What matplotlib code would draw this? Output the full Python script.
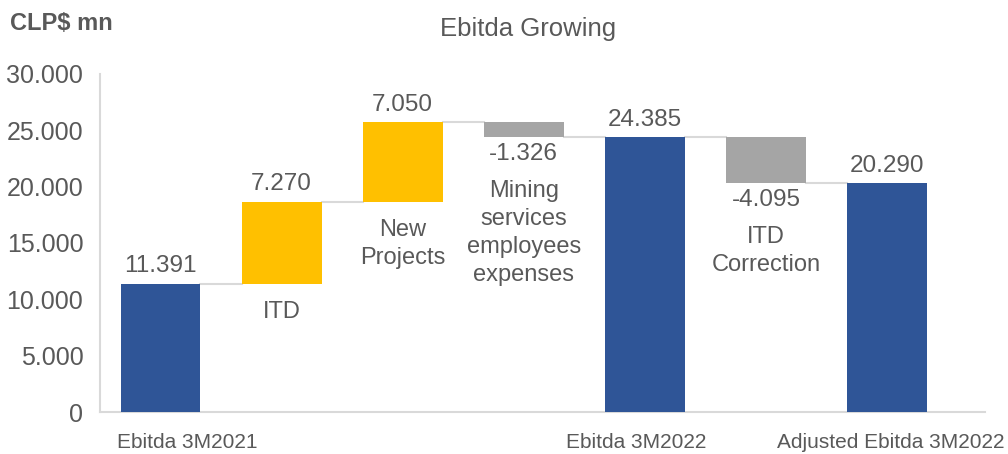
import numpy as np
import matplotlib.pyplot as plt

plt.rcParams['font.family'] = ['Liberation Sans', 'DejaVu Sans']

# waterfall steps (CLP$ mn)
steps = ['Ebitda 3M2021', 'ITD', 'New Projects', 'Mining services',
         'Ebitda 3M2022', 'ITD Correction', 'Adjusted Ebitda 3M2022']
values = [11391, 7270, 7050, -1326, 24385, -4095, 20290]
is_total = [True, False, False, False, True, False, True]
value_labels = ['11.391', '7.270', '7.050', '-1.326', '24.385', '-4.095', '20.290']
notes = ['', 'ITD', 'New\nProjects', 'Mining\nservices\nemployees\nexpenses',
         '', 'ITD\nCorrection', '']
axis_labels = ['Ebitda 3M2021', 'Ebitda 3M2022', 'Adjusted Ebitda 3M2022']
axis_label_x = [0.22, 3.93, 6.03]
yticks = [0, 5000, 10000, 15000, 20000, 25000, 30000]

BLUE = '#2F5597'
YELLOW = '#FFC000'
GREY = '#A5A5A5'
TXT = '#595959'
LINE = '#D9D9D9'

fig = plt.figure(figsize=(10.08, 4.54), dpi=100)
ax = fig.add_axes([0.0992, 0.0925, 0.878, 0.745])

x = np.arange(len(values))
width = 0.66
bottoms, heights, colors = [], [], []
running = 0
for v, tot in zip(values, is_total):
    if tot:
        bottoms.append(0)
        heights.append(v)
        colors.append(BLUE)
        running = v
    else:
        if v >= 0:
            bottoms.append(running)
            colors.append(YELLOW)
        else:
            bottoms.append(running + v)
            colors.append(GREY)
        heights.append(abs(v))
        running += v

ax.bar(x, heights, width, bottom=bottoms, color=colors, zorder=3)

# connectors between bars
level = 0
for i, (v, tot) in enumerate(zip(values, is_total)):
    level = v if tot else level + v
    if i < len(values) - 1:
        ax.plot([x[i] + width / 2, x[i + 1] - width / 2], [level, level],
                color=LINE, lw=1.5, zorder=2)

# value labels and notes
for i, v in enumerate(values):
    top = bottoms[i] + heights[i]
    bot = bottoms[i]
    if v >= 0:
        ax.annotate(value_labels[i], (x[i], top), xytext=(0, 4.5),
                    textcoords='offset points', ha='center', va='bottom',
                    fontsize=17.5, color=TXT)
    else:
        ax.annotate(value_labels[i], (x[i], bot), xytext=(0, -4),
                    textcoords='offset points', ha='center', va='top',
                    fontsize=17.5, color=TXT)
    if notes[i]:
        off = -31 if v < 0 else -12.5
        ax.annotate(notes[i], (x[i], bot), xytext=(0, off),
                    textcoords='offset points', ha='center', va='top',
                    fontsize=17, color=TXT, linespacing=1.36)

for lx, lab in zip(axis_label_x, axis_labels):
    ax.text(lx, -0.09, lab, transform=ax.get_xaxis_transform(),
            ha='center', va='center', fontsize=15, color=TXT)

ax.set_xlim(-0.5, 6.81)
ax.set_ylim(0, 30000)
ax.set_xticks([])
ax.set_yticks(yticks)
ax.set_yticklabels([f'{t:,}'.replace(',', '.') for t in yticks])
ax.tick_params(axis='y', length=0, pad=12, labelsize=18, labelcolor=TXT)
for s in ['top', 'right']:
    ax.spines[s].set_visible(False)
for s in ['left', 'bottom']:
    ax.spines[s].set_color(LINE)
    ax.spines[s].set_linewidth(1.5)

fig.text(0.0099, 0.949, 'CLP$ mn', fontsize=17, fontweight='bold',
         color=TXT, va='center', ha='left')
fig.text(0.524, 0.937, 'Ebitda Growing', fontsize=18.5, color=TXT,
         va='center', ha='center')

fig.savefig('out.png', dpi=100)
